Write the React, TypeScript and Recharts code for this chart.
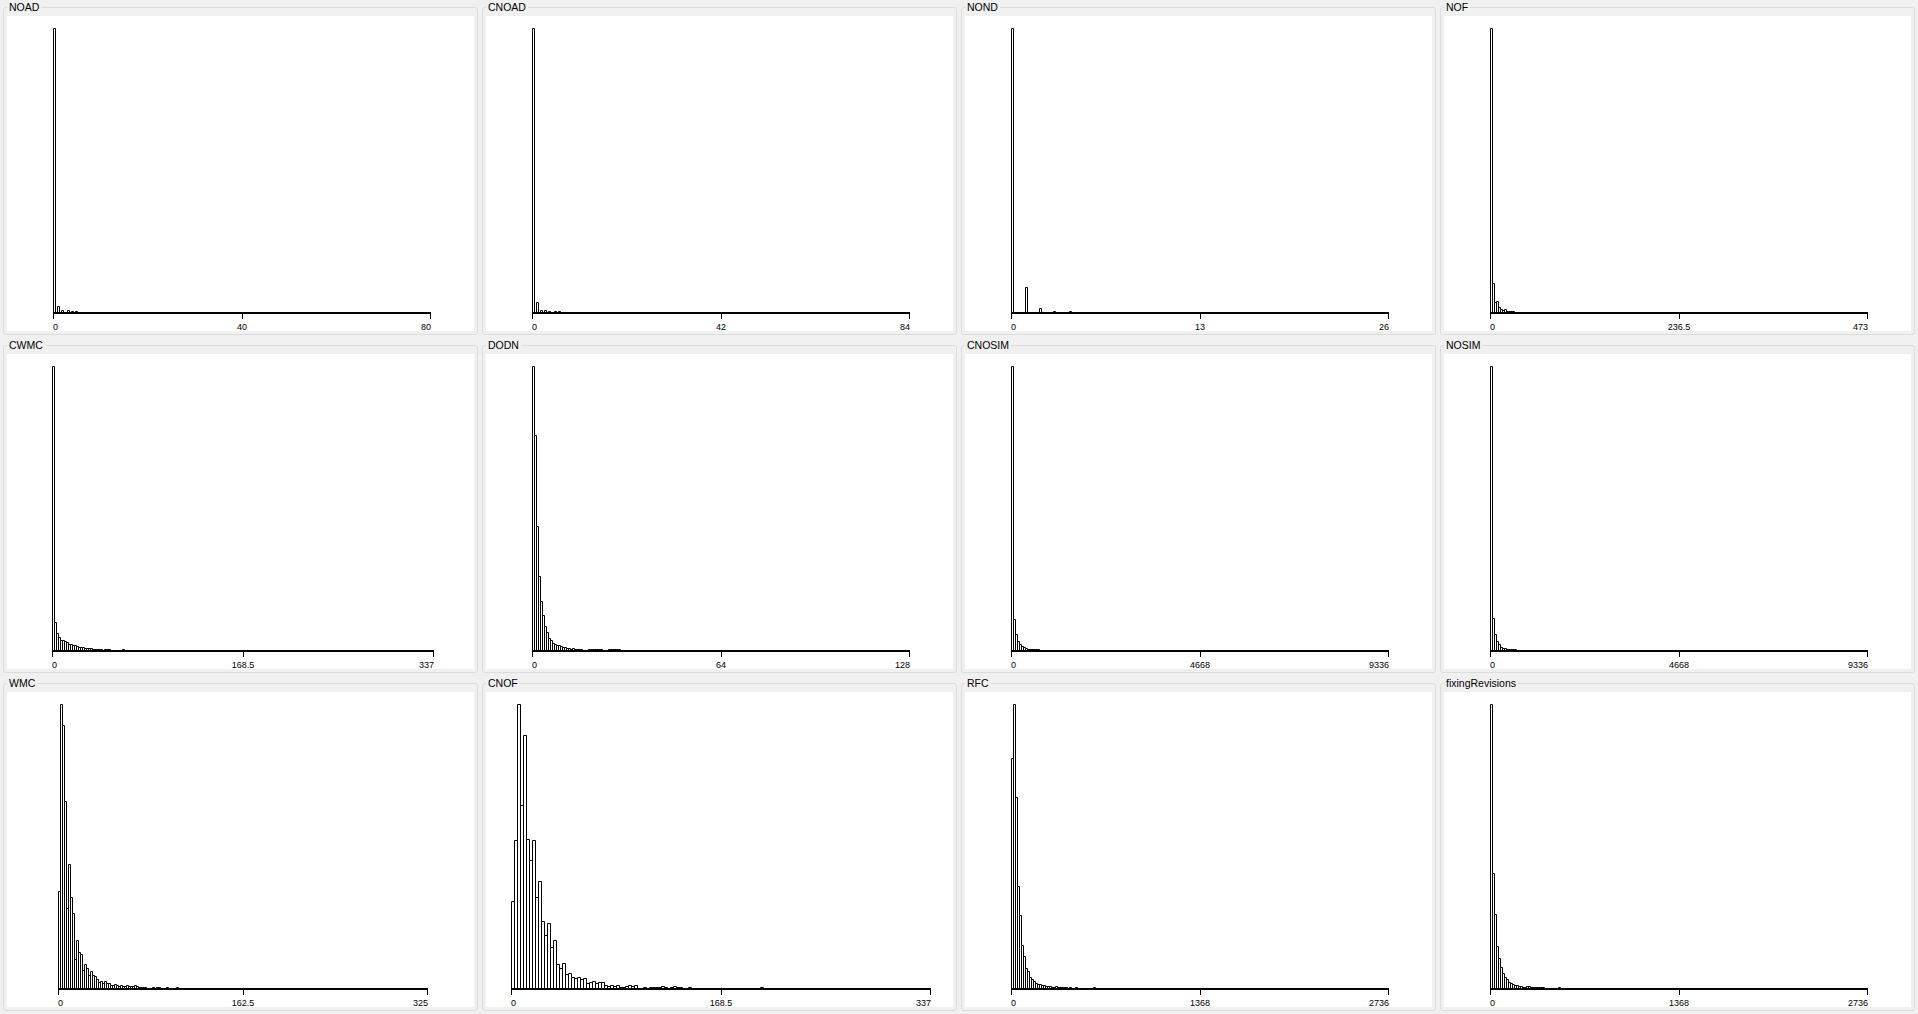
import React from "react";
import { Bar, BarChart, XAxis, YAxis } from "recharts";

// panel titles, read left to right, top to bottom
const titles = [
  "NOAD", "CNOAD", "NOND", "NOF",
  "CWMC", "DODN", "CNOSIM", "NOSIM",
  "WMC", "CNOF", "RFC", "fixingRevisions",
];

const axisTicks = [
  [0, 40, 80], [0, 42, 84], [0, 13, 26], [0, 236.5, 473],
  [0, 168.5, 337], [0, 64, 128], [0, 4668, 9336], [0, 4668, 9336],
  [0, 162.5, 325], [0, 168.5, 337], [0, 1368, 2736], [0, 1368, 2736],
];

// number of histogram bins across each axis
const binTotals = [189, 189, 189, 189, 191, 189, 189, 189, 185, 140, 189, 189];

// counts per bin, starting from bin 0 (relative frequency, tallest = 284)
const noad = [284, 0, 6, 0, 2, 0, 0, 2, 0, 1, 0, 1];
const cnoad = [284, 0, 10, 0, 2, 0, 2, 0, 1, 0, 0, 1, 0, 1];
const nond = [
  284, 0, 0, 0, 0, 0, 0, 25, 0, 0, 0, 0, 0, 0, 4, 0, 0, 0, 0, 0, 0, 1,
  0, 0, 0, 0, 0, 0, 0, 1,
];
const nof = [284, 29, 10, 11, 5, 3, 2, 3, 1, 1, 1, 1];
const cwmc = [
  284, 28, 17, 13, 10, 10, 9, 8, 6, 6, 5, 5, 4, 3, 3, 3, 2, 2, 2, 2,
  1, 1, 1, 1, 1, 0, 1, 1, 1, 0, 0, 0, 0, 0, 0, 1,
];
const dodn = [
  284, 215, 124, 74, 49, 35, 24, 18, 12, 10, 7, 6, 5, 5, 4, 3, 3, 2, 2, 1,
  2, 1, 1, 1, 1, 0, 0, 0, 1, 1, 1, 1, 1, 1, 1, 0, 0, 0, 1, 1, 1, 1, 1, 1,
];
const cnosim = [284, 31, 16, 9, 6, 4, 3, 2, 1, 1, 1, 1, 1, 1];
const nosim = [284, 32, 16, 9, 6, 3, 2, 2, 1, 1, 1, 1, 1];
const wmc = [
  97, 284, 263, 187, 80, 124, 91, 75, 29, 48,
  36, 34, 18, 24, 20, 13, 17, 13, 12, 9,
  6, 7, 5, 7, 5, 5, 3, 3, 4, 3,
  2, 3, 2, 2, 3, 2, 2, 2, 3, 2,
  1, 1, 1, 1, 0, 0, 0, 1, 0, 1,
  1, 0, 0, 0, 1, 0, 0, 0, 0, 1,
];
const cnof = [
  87, 148, 284, 183, 253, 149, 128, 148, 91, 107,
  67, 53, 65, 41, 48, 24, 20, 25, 14, 15,
  11, 10, 11, 9, 10, 5, 6, 7, 5, 6,
  6, 3, 2, 3, 2, 3, 1, 1, 2, 3,
  2, 3, 0, 0, 1, 0, 1, 1, 1, 1,
  2, 1, 0, 1, 2, 1, 1, 0, 0, 1,
  0, 0, 0, 0, 0, 0, 0, 0, 0, 0,
  0, 0, 0, 0, 0, 0, 0, 0, 0, 0,
  0, 0, 0, 1,
];
const rfc = [
  230, 284, 191, 102, 73, 43, 32, 20, 17, 11,
  9, 7, 5, 4, 4, 3, 3, 2, 2, 2,
  1, 1, 2, 1, 1, 1, 1, 1, 0, 1,
  0, 0, 1, 0, 0, 0, 0, 0, 0, 0,
  0, 1,
];
const fixingRevisions = [
  284, 115, 74, 42, 30, 21, 15, 11, 9, 6,
  5, 4, 3, 3, 2, 2, 1, 1, 2, 2,
  1, 1, 1, 1, 1, 1, 1, 0, 0, 0,
  0, 0, 0, 0, 1,
];

const allCounts = [
  noad, cnoad, nond, nof, cwmc, dodn, cnosim, nosim, wmc, cnof, rfc, fixingRevisions,
];

// plot left / right inset inside each white panel
const plotInsets = [
  [46, 43], [46, 43], [46, 43], [46, 43],
  [45, 40], [46, 43], [46, 43], [46, 43],
  [51, 46], [25, 22], [46, 43], [46, 43],
];

const W = 467;
const H = 315;
const AXIS_H = 18;
const TOP = 13;
const BASE = H - AXIS_H;
const Y_MAX = 284;
const FONT = "'Liberation Sans', Arial, sans-serif";

function AxisTick(props: any) {
  const { x, payload, index } = props;
  const px = index === 2 ? x - 0.5 : x + 0.5;
  const anchor = index === 0 ? "start" : index === 2 ? "end" : "middle";
  return (
    <g>
      <line x1={px} x2={px} y1={BASE} y2={BASE + 6} stroke="#000" strokeWidth={1} />
      <text x={x} y={H - 1} textAnchor={anchor} fontSize={9} fontFamily={FONT} fill="#000">
        {payload.value}
      </text>
    </g>
  );
}

function HistBar(props: any) {
  const { x, y, width, height, plotLeft, pitch } = props;
  if (!height || height <= 0) return <g />;
  const center = x + width / 2;
  const i = Math.round((center - plotLeft) / pitch - 0.5);
  const left = plotLeft + i * pitch;
  const base = Math.round(y + height);
  const top = Math.round(y) - 0.5;
  const d = `M${left + 0.5},${base - 1}V${top}H${left + pitch + 0.5}V${base - 1}`;
  return <path d={d} fill="#fff" stroke="#000" strokeWidth={1} />;
}

function Histogram({ idx }: { idx: number }) {
  const ticks = axisTicks[idx];
  const max = ticks[2];
  const bins = binTotals[idx];
  const binWidth = max / bins;
  const [left, right] = plotInsets[idx];
  const pitch = (W - left - right) / bins;
  const data = allCounts[idx]
    .map((count, i) => ({ x: (i + 0.5) * binWidth, count }))
    .filter((d) => d.count > 0);

  return (
    <BarChart
      width={W}
      height={H}
      data={data}
      margin={{ top: TOP, right, bottom: 0, left }}
      barCategoryGap={0}
    >
      <XAxis
        type="number"
        dataKey="x"
        domain={[0, max]}
        ticks={ticks}
        interval={0}
        height={AXIS_H}
        axisLine={{ stroke: "#000", strokeWidth: 2 }}
        tickLine={false}
        tick={<AxisTick />}
      />
      <YAxis hide domain={[0, Y_MAX]} />
      <Bar
        dataKey="count"
        isAnimationActive={false}
        shape={(p: any) => <HistBar {...p} plotLeft={left} pitch={pitch} />}
      />
    </BarChart>
  );
}

function Panel({ idx }: { idx: number }) {
  const col = idx % 4;
  const row = Math.floor(idx / 4);
  const left = 7 + 479 * col;
  const top = 16 + 338 * row;
  return (
    <>
      <div
        style={{
          position: "absolute",
          left: left - 4,
          top: top - 9,
          width: 475,
          height: 328,
          border: "1px solid #dcdcdc",
          borderRadius: 3,
          boxSizing: "border-box",
        }}
      />
      <div
        style={{
          position: "absolute",
          left,
          top,
          width: W,
          height: H,
          background: "#fff",
        }}
      >
        <Histogram idx={idx} />
      </div>
      <span
        style={{
          position: "absolute",
          left,
          top: top - 15,
          padding: "0 2px",
          background: "#f0f0f0",
          fontFamily: FONT,
          fontSize: 10.5,
          lineHeight: "13px",
          color: "#000",
          whiteSpace: "nowrap",
        }}
      >
        {titles[idx]}
      </span>
    </>
  );
}

export default function App() {
  return (
    <div
      style={{
        position: "fixed",
        left: 0,
        top: 0,
        width: 1918,
        height: 1014,
        background: "#f0f0f0",
        overflow: "hidden",
      }}
    >
      {titles.map((_, i) => (
        <Panel key={i} idx={i} />
      ))}
    </div>
  );
}
